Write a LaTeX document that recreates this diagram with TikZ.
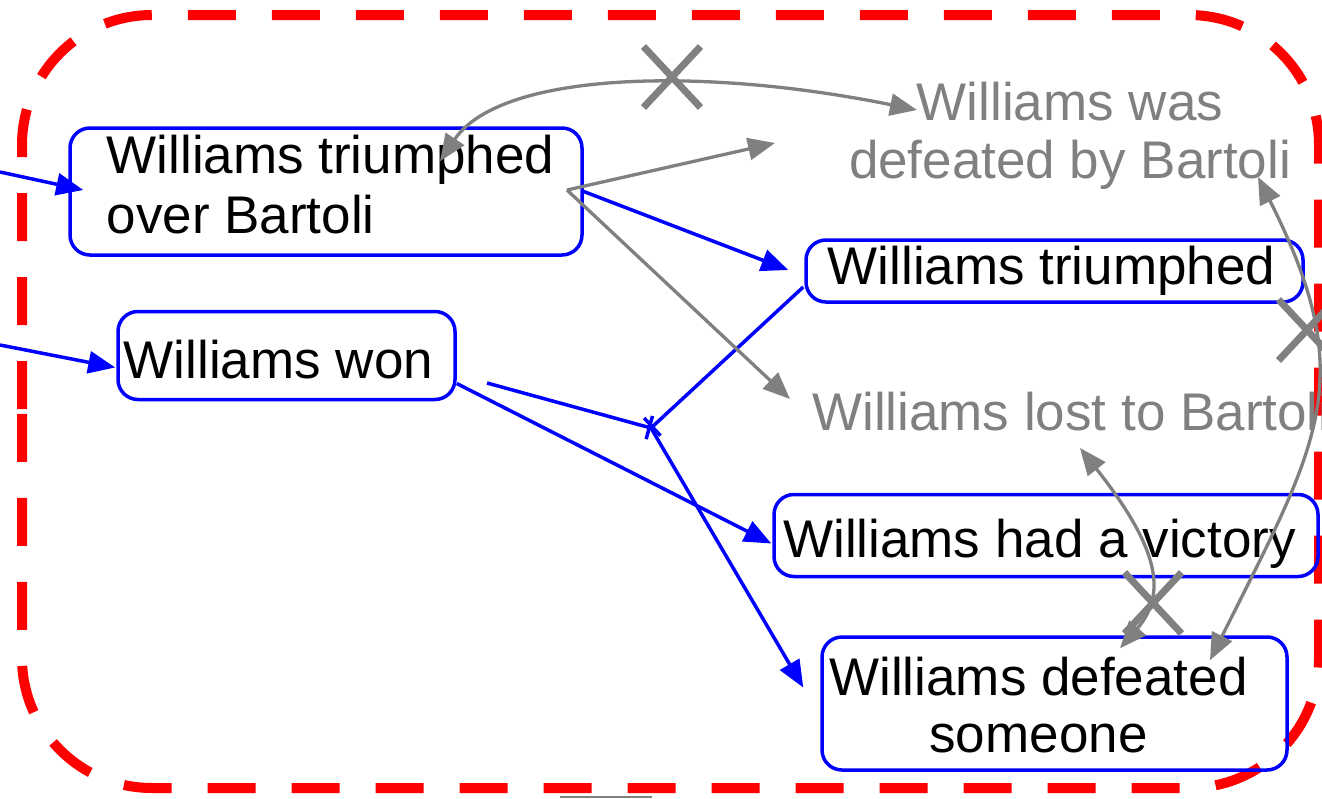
\documentclass[tikz,border=0pt]{standalone}
\usepackage{fontspec}
\setmainfont{Liberation Sans}
\usetikzlibrary{arrows.meta,calc,shapes.misc}
\newcommand\diagfont{\fontsize{53}{60}\selectfont}
\definecolor{lgray}{RGB}{128,128,128}
\begin{document}
\begin{tikzpicture}[x=1pt,y=-1pt,
  box/.style={draw=blue, line width=3.5pt, rounded corners=20pt, inner sep=0pt, font=\diagfont, text=black},
  gtext/.style={inner sep=0pt, font=\diagfont, text=lgray},
  bl/.style={draw=blue, line width=3.5pt},
  gr/.style={draw=lgray, line width=3.3pt},
  tipA/.tip={Triangle[length=27pt,width=22pt]},
  tipB/.tip={Bar[width=24pt,line width=3.5pt]},
  xmark/.style={cross out, draw=lgray, line width=7pt, minimum width=50pt, minimum height=54pt, inner sep=0pt},
  frame/.style={draw=red, line width=10pt, dash pattern=on 48pt off 36pt, rounded corners=130pt}
]
\useasboundingbox (0,0) rectangle (1322,798);
% frame
\draw[frame] (22,409) -- (22,15) -- (1319,15) -- (1319,788) -- (22,788) -- (22,409);

% boxes
\node[box, minimum width=512pt, minimum height=127pt] (b1) at (326,191.5)
  {\begin{tabular}{@{\hspace{9pt}}l@{}}Williams triumphed\\over Bartoli\end{tabular}};
\node[box, minimum width=337pt, minimum height=88pt, text height=45pt, text depth=0pt] (b2) at (286.5,355.5) {Williams won\kern16pt};
\node[box, minimum width=497pt, minimum height=62pt] (b3) at (1054.5,271) {Williams triumphed\kern6pt};
\node[box, minimum width=544pt, minimum height=82pt, text height=44pt, text depth=0pt] (b6) at (1046,535.5) {Williams had a victory\kern13pt};
\node[box, minimum width=465pt, minimum height=127pt] (b7) at (1054.5,703.5)
  {\begin{tabular}{@{}c@{\hspace{32pt}}}\rule{0pt}{58pt}Williams defeated\\[-3pt]someone\end{tabular}};

% gray texts
\node[gtext] (wdef) at (1070,137) {\begin{tabular}{@{}c@{}}Williams was\\[-2pt]defeated by Bartoli\end{tabular}};
\node[gtext, anchor=base west] (lost) at (812,430) {Williams lost to Bartoli};

% free ends
\coordinate (in1) at (0,172);
\coordinate (in2) at (0,345);
\coordinate (g0) at (567,190);
\coordinate (s2) at (487,383);
\coordinate (J) at (651,428);
\coordinate (t1) at (775,143);
\coordinate (t2) at (790,399);
\coordinate (bl1) at (560,797);
\coordinate (bl2) at (652,797);

% blue connectors
\draw[bl,-tipA] (in1) -- ($(b1.west)+(15,-1.5)$);
\draw[bl,-tipA] (in2) -- ($(b2.west)+(-1,12)$);
\draw[bl,-tipA] (b1.east) -- ($(b3.west)+(-16,-1)$);
\draw[bl,-tipB] ($(b3.west)+(-1,16)$) -- (J);
\draw[bl,-tipB] (s2) -- (J);
\draw[bl,-tipA] (J) -- ($(b7.west)+(-17,-16)$);
\draw[bl,-tipA] ($(b2.east)+(0,28)$) -- ($(b6.west)+(-1,8)$);

% gray connectors
\draw[gr,-tipA] (g0) -- (t1);
\draw[gr,-tipA] (g0) -- (t2);
\draw[gr,tipA-tipA] ($(b1.north)+(114,35)$) .. controls (500,72) and (700,66) .. ($(wdef.center)+(-153,-27)$);
\draw[gr,tipA-tipA] ($(wdef.center)+(188,40)$) .. controls (1360,380) and (1320,440) .. ($(b7.north)+(155.5,25)$);
\draw[gr,tipA-tipA] ($(lost.base west)+(268,18)$) .. controls (1154,542) and (1170,591) .. ($(b7.north)+(65.5,13)$);

% crosses
\node[xmark] (x1) at (672,77) {};
\node[xmark] (x2) at (1307,330) {};
\node[xmark] (x3) at (1153,603) {};

\draw[lgray, line width=1.5pt] (bl1) -- (bl2);
\end{tikzpicture}
\end{document}
